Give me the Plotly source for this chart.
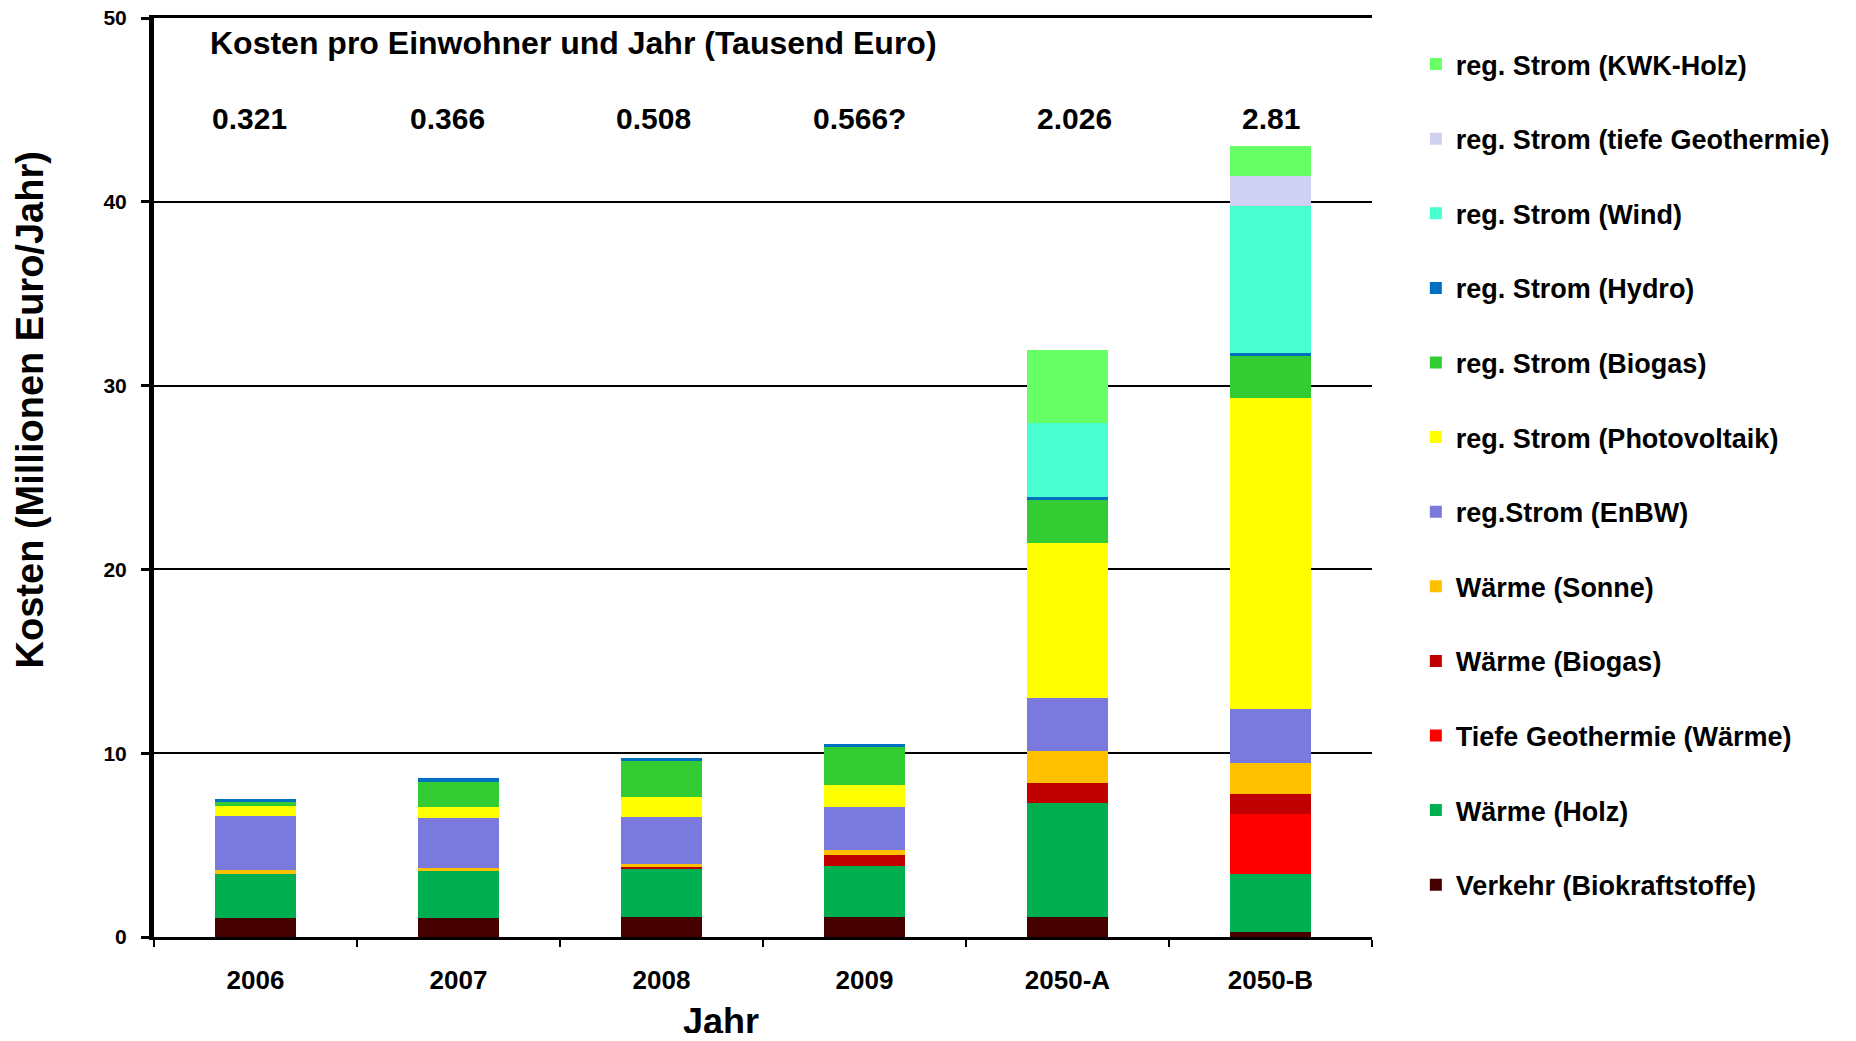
import plotly.graph_objects as go

categories = ["2006", "2007", "2008", "2009", "2050-A", "2050-B"]
per_capita = ["0.321", "0.366", "0.508", "0.566?", "2.026", "2.81"]

verkehr = [1.05, 1.05, 1.08, 1.08, 1.07, 0.27]
waerme_holz = [2.40, 2.54, 2.67, 2.79, 6.21, 3.17]
tiefe_geo_waerme = [0, 0, 0, 0, 0, 3.24]
waerme_biogas = [0, 0, 0.06, 0.60, 1.09, 1.09]
waerme_sonne = [0.20, 0.17, 0.17, 0.24, 1.73, 1.71]
strom_enbw = [2.94, 2.72, 2.53, 2.36, 2.91, 2.93]
strom_pv = [0.56, 0.60, 1.10, 1.20, 8.43, 16.89]
strom_biogas = [0.18, 1.36, 1.98, 2.08, 2.31, 2.31]
strom_hydro = [0.17, 0.20, 0.16, 0.17, 0.18, 0.18]
strom_wind = [0, 0, 0, 0, 4.04, 7.99]
strom_tiefe_geo = [0, 0, 0, 0, 0, 1.63]
strom_kwk_holz = [0, 0, 0, 0, 3.97, 1.60]

series = [
    ("Verkehr (Biokraftstoffe)", verkehr, "#460000"),
    ("Wärme (Holz)", waerme_holz, "#00B050"),
    ("Tiefe Geothermie (Wärme)", tiefe_geo_waerme, "#FF0000"),
    ("Wärme (Biogas)", waerme_biogas, "#C00000"),
    ("Wärme (Sonne)", waerme_sonne, "#FFC000"),
    ("reg.Strom (EnBW)", strom_enbw, "#7A7ADE"),
    ("reg. Strom (Photovoltaik)", strom_pv, "#FFFF00"),
    ("reg. Strom (Biogas)", strom_biogas, "#33CC33"),
    ("reg. Strom (Hydro)", strom_hydro, "#0070C0"),
    ("reg. Strom (Wind)", strom_wind, "#48FFD0"),
    ("reg. Strom (tiefe Geothermie)", strom_tiefe_geo, "#D0D0F2"),
    ("reg. Strom (KWK-Holz)", strom_kwk_holz, "#66FF66"),
]

FONT = "Liberation Sans"

fig = go.Figure()
n = len(series)
for i, (name, vals, col) in enumerate(series):
    fig.add_trace(go.Bar(
        x=categories, y=vals, name=name, legendgroup=f"g{i}", legendrank=n - i,
        marker=dict(color=col, line=dict(width=0)),
    ))

label_shift = [-6, -11, -8, -5, 7, 0]
annotations = [
    dict(
        text="Kosten pro Einwohner und Jahr (Tausend Euro)",
        xref="paper", yref="paper", x=0.044, y=0.973, xanchor="left", yanchor="middle",
        showarrow=False, font=dict(family=FONT, size=32, color="black", weight="bold"),
    ),
    dict(
        text="Kosten (Millionen Euro/Jahr)", textangle=-90,
        xref="paper", yref="paper", x=-0.1018, y=0.573, xanchor="center", yanchor="middle",
        showarrow=False, font=dict(family=FONT, size=38, color="black", weight="bold"),
    ),
    dict(
        text="Jahr",
        xref="paper", yref="paper", x=0.4655, y=-0.092, xanchor="center", yanchor="middle",
        showarrow=False, font=dict(family=FONT, size=36, color="black", weight="bold"),
    ),
]
for i, v in enumerate(per_capita):
    annotations.append(dict(
        text=v, xref="x", yref="paper", x=i, y=0.891, xanchor="center", yanchor="middle",
        xshift=label_shift[i], showarrow=False,
        font=dict(family=FONT, size=30, color="black", weight="bold"),
    ))

fig.update_layout(
    width=1840, height=1025,
    barmode="stack", bargap=0.6,
    plot_bgcolor="white", paper_bgcolor="white",
    margin=dict(l=146, r=476, t=10, b=96, autoexpand=False),
    font=dict(family=FONT, color="black"),
    annotations=annotations,
    legend=dict(
        traceorder="grouped", tracegroupgap=36.5,
        x=1.036, y=0.976, xanchor="left", yanchor="top",
        font=dict(family=FONT, size=27, color="black", weight="bold"),
        bgcolor="rgba(0,0,0,0)",
    ),
    xaxis=dict(
        type="category", tickson="boundaries", ticks="outside", ticklen=7,
        tickwidth=2, tickcolor="black", showline=True, mirror=True,
        linecolor="black", linewidth=2.5,
        showgrid=False, ticklabelstandoff=18, tickangle=0,
        tickfont=dict(family=FONT, size=26, color="black", weight="bold"),
    ),
    yaxis=dict(
        range=[0, 50], dtick=10, ticks="outside", ticklen=8, tickwidth=3,
        tickcolor="black", showline=True, linecolor="black", linewidth=5,
        showgrid=True, gridcolor="black", gridwidth=1.5, zeroline=False,
        ticklabelstandoff=10, ticklabeloverflow="allow",
        tickfont=dict(family=FONT, size=21, color="black", weight="bold"),
    ),
)

fig.write_html("out.html")
